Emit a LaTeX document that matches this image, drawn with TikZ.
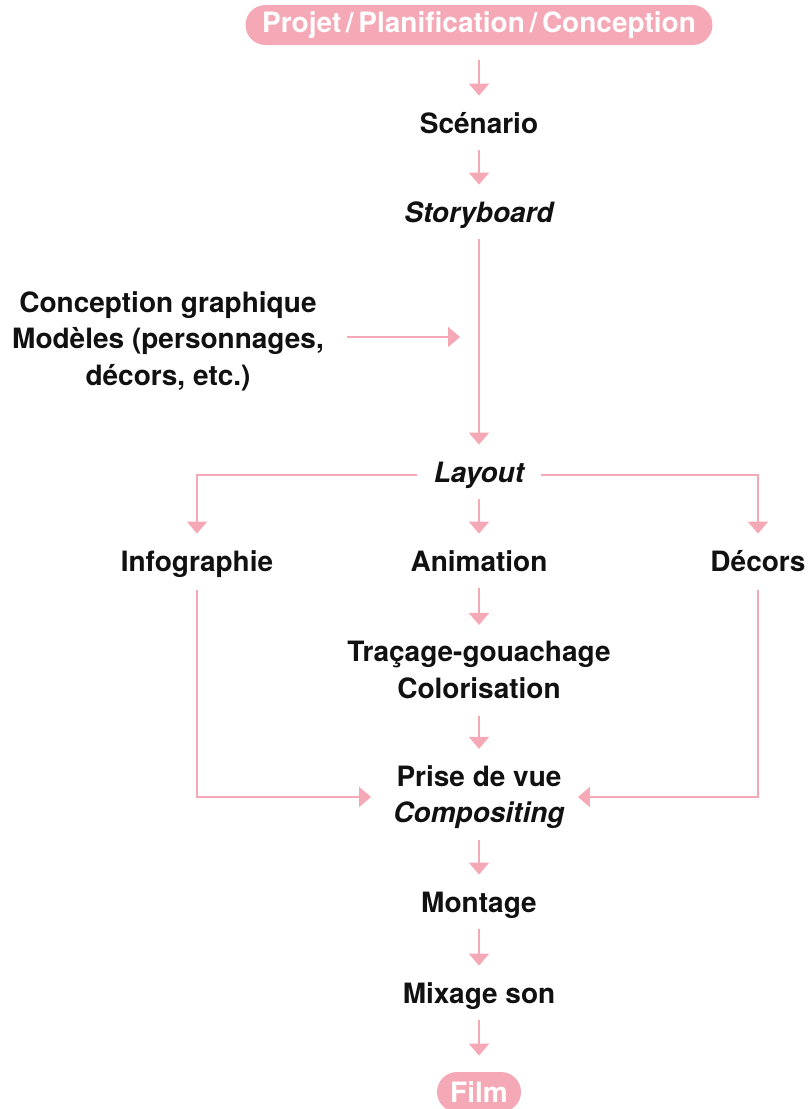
\documentclass[tikz,border=0pt]{standalone}
\usepackage{fontspec}
\setmainfont{TeX Gyre Heros}
\usetikzlibrary{arrows.meta}
\usetikzlibrary{positioning}
\definecolor{rose}{HTML}{F5A8B5}
\definecolor{ink}{HTML}{111111}
\tikzset{pill/.style={rectangle,rounded corners=10pt,fill=rose,text=white,minimum height=20pt,inner xsep=6pt,inner ysep=0pt,font=\bfseries\fontsize{14}{18}\selectfont}}

\begin{document}
\begin{tikzpicture}[x=0.5pt,y=-0.5pt]
  % some styles
  \tikzset{
    lbl/.style={inner sep=0pt,text=ink,font=\bfseries\fontsize{14}{18}\selectfont,text height=10.5pt,text depth=3pt},
    multi/.style={inner sep=0pt,text=ink,align=center,font=\bfseries\fontsize{14}{18.25}\selectfont},
    arr/.style={draw=rose,line width=1pt,-{Triangle[width=10pt,length=6pt]},shorten <=5.5pt,shorten >=8pt}
  }
\useasboundingbox (0,0) rectangle (812,1109);

% main column
\node[pill,minimum width=233.5pt] (projet) at (479,25) {Projet\,/\,Planification\,/\,Conception};
\node[lbl] (scenario) at (479,125.5) {Scénario};
\node[lbl] (story) at (479,214.5) {\itshape Storyboard};
\node[lbl] (layout) at (479,474.5) {\itshape Layout};
\node[lbl] (infog) at (197,563.5) {Infographie};
\node[lbl] (anim) at (479,563.5) {Animation};
\node[lbl] (decors) at (758,563.5) {Décors};
\node[multi] (tracage) at (479,670) {Traçage-gouachage\\Colorisation};
\node[multi] (prise) at (479,797) {Prise de vue\\\itshape Compositing};
\node[lbl] (montage) at (479,904.5) {Montage};
\node[lbl] (mixage) at (479,995.5) {Mixage son};
\node[pill,minimum width=42pt] (film) at (479,1092) {Film};

% side input
\node[multi] (concept) at (168,341) {Conception graphique\\Modèles (personnages,\\décors, etc.)};
\coordinate (join) at (480,337);

\draw[arr,shorten <=7.5pt] (projet) -- (scenario);
\foreach \a/\b in {scenario/story,story/layout,layout/anim,anim/tracage,prise/montage,montage/mixage,mixage/film} {
    \draw[arr] (\a) -- (\b);
  }
\draw[arr,shorten <=8.5pt] (tracage) -- (prise);
\draw[arr,shorten <=11.5pt,shorten >=10pt] (concept.east |- join) -- (join);

% branches
\draw[arr,shorten <=8pt] (layout.west) -| (infog);
\draw[arr,shorten <=8pt] (layout.east) -| (decors);
\draw[arr,shorten <=6.5pt,shorten >=11pt] (infog) |- (prise);
\draw[arr,shorten <=6.5pt,shorten >=6.5pt] (decors) |- (prise);

\end{tikzpicture}
\end{document}
